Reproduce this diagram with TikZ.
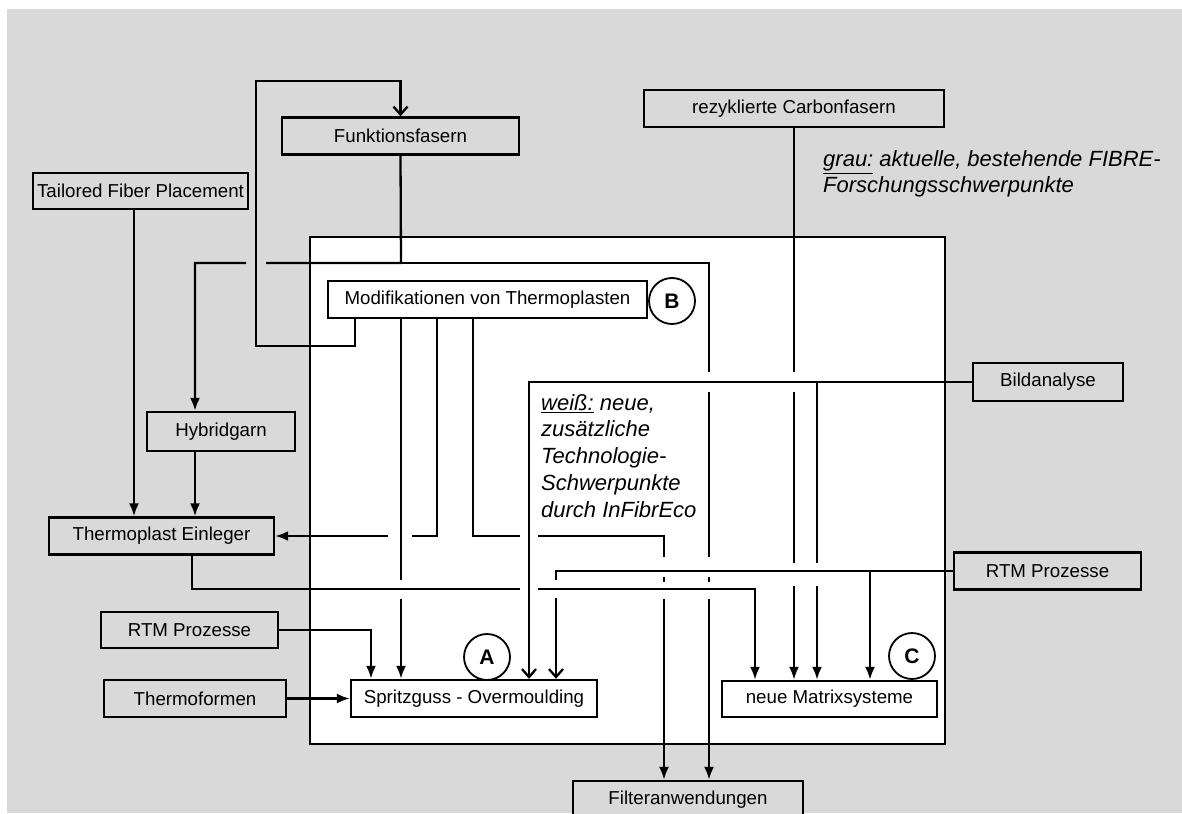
\documentclass[tikz,border=0pt]{standalone}
\usepackage{fontspec}
\setmainfont{Liberation Sans}
\usetikzlibrary{arrows.meta}
\definecolor{bg}{RGB}{217,217,217}
\begin{document}
\begin{tikzpicture}[x=1pt,y=-1pt,
  ln/.style={line width=2.3pt},
  arF/.style={ln,-{Latex[length=13pt,width=10pt]}},
  arV/.style={ln,-{Straight Barb[length=8pt,width=14pt]}},
  box/.style={draw,line width=2.4pt,inner sep=0pt,font=\fontsize{18.7}{22}\selectfont},
  gbox/.style={box,fill=bg},
  wbox/.style={box,fill=white},
  letterc/.style={circle,draw,line width=1.8pt,fill=white,minimum size=46pt,inner sep=0pt,font=\fontsize{21}{21}\selectfont\bfseries},
  note/.style={anchor=base west,align=left,inner sep=0pt}
]
\useasboundingbox (0,0) rectangle (1182,813);
\clip (0,0) rectangle (1182,813);
\fill[bg] (7,9) rectangle (1182,813);
\draw[line width=2.4pt,fill=white] (310,237) rectangle (945,744);

% x positions
\coordinate (x134) at (134,0);
\coordinate (x192) at (192,0);
\coordinate (x195) at (195,0);
\coordinate (x355) at (355,0);
\coordinate (x371) at (371,0);
\coordinate (x401) at (401,0);
\coordinate (x437) at (437,0);
\coordinate (x473) at (473,0);
\coordinate (x529) at (529,0);
\coordinate (x556) at (556,0);
\coordinate (x664) at (664,0);
\coordinate (x709) at (709,0);
\coordinate (x755) at (755,0);
\coordinate (x794) at (794,0);
\coordinate (x817) at (817,0);
\coordinate (x870) at (870,0);

% nodes
\node[gbox,minimum width=237pt,minimum height=37pt] (funk) at (400.5,136) {Funktionsfasern};
\node[gbox,minimum width=300pt,minimum height=37pt] (rezyk) at (794,108.5) {rezyklierte Carbonfasern};
\node[gbox,minimum width=215pt,minimum height=36pt] (tfp) at (140.5,191) {Tailored Fiber Placement};
\node[wbox,minimum width=319pt,minimum height=37pt] (modif) at (487.5,299.5) {Modifikationen von Thermoplasten};
\node[gbox,minimum width=148pt,minimum height=39pt] (hybrid) at (221,431.5) {Hybridgarn\hspace{12pt}};
\node[gbox,minimum width=150pt,minimum height=38pt] (bild) at (1048,382) {Bildanalyse\hspace{20pt}};
\node[gbox,minimum width=225pt,minimum height=37pt] (thermE) at (161.5,536) {Thermoplast Einleger};
\node[gbox,minimum width=177pt,minimum height=36pt] (rtmL) at (189.5,630) {RTM Prozesse};
\node[gbox,minimum width=187pt,minimum height=37pt] (rtmR) at (1047.5,571) {RTM Prozesse\hspace{24pt}};
\node[gbox,minimum width=182pt,minimum height=37pt] (thermo) at (195,698.5) {Thermoformen\hspace{8pt}};
\node[wbox,minimum width=246pt,minimum height=37pt] (spritz) at (474,698.5) {Spritzguss - Overmoulding\hspace{9pt}};
\node[wbox,minimum width=215pt,minimum height=36pt] (matrix) at (829.5,699) {neue Matrixsysteme\hspace{11pt}};
\node[gbox,minimum width=230pt,minimum height=38pt] (filter) at (688,800) {Filteranwendungen};

% connectors
\draw[arV] (modif.south -| x355) -- (355,346) -- (256,346) -- (256,81) -| (funk.north);
\draw[arF] (funk.south) -- (401,263) -- (266,263) (246,263) -- (195,263) -- (hybrid.north -| x195);
\draw[arF] (401,263) -- (709,263) -- (709,372) (709,392) -- (709,557) (709,577) -- (709,582) (709,599) -- (filter.north -| x709);
\draw[arF] (rezyk.south -| x794) -- (794,372) (794,392) -- (794,563) (794,586) -- (matrix.north -| x794);
\draw[arV] (bild.west) -- (529,382) -- (spritz.north -| x529);
\draw[arF] (817,382) -- (817,563) (817,586) -- (matrix.north -| x817);
\draw[arF] (modif.south -| x437) -- (437,536) -- (412,536) (388,536) -- (thermE.east);
\draw[arF] (modif.south -| x401) -- (401,580) (401,599) -- (spritz.north -| x401);
\draw[arF] (modif.south -| x473) -- (473,536) -- (520,536) (538,536) -- (664,536) -- (664,557) (664,577) -- (664,582) (664,599) -- (filter.north -| x664);
\draw[arF] (thermE.south -| x192) -- (192,589) -- (520,589) (538,589) -- (755,589) -- (matrix.north -| x755);
\draw[arV] (rtmR.west) -- (556,571) -- (556,580) (556,598) -- (spritz.north -| x556);
\draw[arF] (870,571) -- (matrix.north -| x870);
\draw[arF] (rtmL.east) -| (spritz.north -| x371);
\draw[arF] (thermo.east) -- (spritz.west);
\draw[arF] (tfp.south -| x134) -- (thermE.north -| x134);
\draw[arF] (hybrid.south -| x195) -- (thermE.north -| x195);

% letters
\node[letterc] (B) at (672,301) {B};
\node[letterc] (A) at (487,657) {A};
\node[letterc] (C) at (912,656) {C};

% notes (anchor = baseline of last line)
\node[note,font=\fontsize{22}{26}\selectfont\itshape] (grau) at (823,193) {\underline{grau:} aktuelle, bestehende FIBRE-\\Forschungsschwerpunkte};
\node[note,font=\fontsize{22}{26.75}\selectfont\itshape] (weiss) at (541,517) {\underline{weiß:} neue,\\zusätzliche\\Technologie-\\Schwerpunkte\\durch InFibrEco};
\end{tikzpicture}
\end{document}
